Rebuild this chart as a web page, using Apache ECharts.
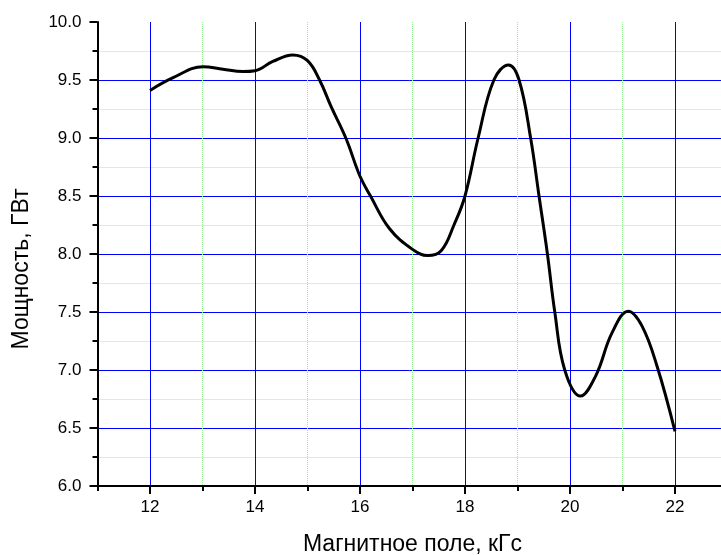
<!DOCTYPE html>
<html>
<head>
<meta charset="utf-8">
<script src="https://cdn.jsdelivr.net/npm/echarts@6/dist/echarts.min.js"></script>
<style>html,body{margin:0;padding:0;background:#fff;}#c{width:721px;height:555px;}</style>
</head>
<body>
<div id="c"></div>
<script>
const fieldKGs = [12.0, 12.44, 13.01, 13.39, 13.77, 14.0, 14.34, 14.72, 15.0, 15.23, 15.45, 15.73, 16.0, 16.2, 16.56, 17.0, 17.29, 17.55, 17.79, 18.0, 18.25, 18.55, 18.83, 19.03, 19.25, 19.41, 19.57, 19.71, 19.9, 20.2, 20.49, 20.8, 21.11, 21.37, 21.66, 22.0];
const powerGW = [9.41, 9.52, 9.615, 9.593, 9.573, 9.58, 9.66, 9.716, 9.667, 9.50, 9.27, 9.0, 8.67, 8.5, 8.22, 8.04, 7.986, 8.03, 8.25, 8.50, 9.0, 9.5, 9.63, 9.5, 9.0, 8.5, 8.0, 7.5, 7.0, 6.775, 6.95, 7.32, 7.507, 7.38, 7.03, 6.47];
const xMajorTicks = [12, 14, 16, 18, 20, 22];
const xMinorTicks = [11, 13, 15, 17, 19, 21, 23];
const xTitle = 'Магнитное поле, кГс';
const yTitle = 'Мощность, ГВт';

const chart = echarts.init(document.getElementById('c'), null, {renderer: 'canvas'});
const font = '"Liberation Sans", Arial, sans-serif';
const axisLineStyle = {color: '#000', width: 2};
const none = 'rgba(255,255,255,0)';
const baseX = {type: 'value', min: 11, max: 23, interval: 1, position: 'bottom'};
const option = {
  animation: false,
  backgroundColor: '#fff',
  grid: {left: 97.5, right: -6.5, top: 22, bottom: 69, containLabel: false, outerBoundsMode: 'none'},
  xAxis: [
    Object.assign({}, baseX, {
      axisLine: {show: true, onZero: false, lineStyle: axisLineStyle},
      axisTick: {show: true, inside: false, length: 8, lineStyle: {color: '#000', width: 2}, customValues: xMajorTicks},
      axisLabel: {show: true, margin: 13, color: '#000', fontSize: 17, fontFamily: font, customValues: xMajorTicks},
      splitLine: {show: false},
      name: xTitle, nameLocation: 'middle', nameGap: 47,
      nameTextStyle: {color: '#000', fontSize: 23, fontFamily: font}
    }),
    Object.assign({}, baseX, {
      axisLine: {show: false, onZero: false},
      axisTick: {show: true, inside: false, length: 5, lineStyle: {color: '#000', width: 2}, customValues: xMinorTicks},
      axisLabel: {show: false},
      splitLine: {show: false}
    }),
    Object.assign({}, baseX, {
      axisLine: {show: false, onZero: false},
      axisTick: {show: false},
      axisLabel: {show: false},
      splitLine: {show: true, showMinLine: true, showMaxLine: true, lineStyle: {color: [none, '#0000ff'], width: 1, type: 'solid'}}
    }),
    Object.assign({}, baseX, {
      axisLine: {show: false, onZero: false},
      axisTick: {show: false},
      axisLabel: {show: false},
      splitLine: {show: true, showMinLine: true, showMaxLine: true, lineStyle: {color: ['#99ee99', none], width: 1, type: 'dotted'}}
    })
  ],
  yAxis: {
    type: 'value', min: 6, max: 10, interval: 0.5,
    axisLine: {show: true, onZero: false, lineStyle: axisLineStyle},
    axisTick: {show: true, inside: false, length: 8, lineStyle: {color: '#000', width: 2}},
    minorTick: {show: true, splitNumber: 2, length: 5, lineStyle: {color: '#000', width: 2}},
    axisLabel: {show: true, margin: 16, color: '#000', fontSize: 17, fontFamily: font,
      formatter: v => v.toFixed(1)},
    splitLine: {show: true, showMinLine: false, showMaxLine: false, lineStyle: {color: '#0000ff', width: 1}},
    minorSplitLine: {show: true, lineStyle: {color: '#99ee99', width: 1, type: 'dotted'}},
    name: yTitle, nameLocation: 'middle', nameGap: 64, nameRotate: 90,
    nameTextStyle: {color: '#000', fontSize: 23, fontFamily: font, padding: [0, 30, 0, 0]}
  },
  series: [{
    type: 'line', xAxisIndex: 0,
    data: fieldKGs.map((x, i) => [x, powerGW[i]]),
    smooth: 0.4, showSymbol: false, symbol: 'none',
    lineStyle: {color: '#000', width: 3}, z: 5
  }]
};
chart.setOption(option);
</script>
</body>
</html>
